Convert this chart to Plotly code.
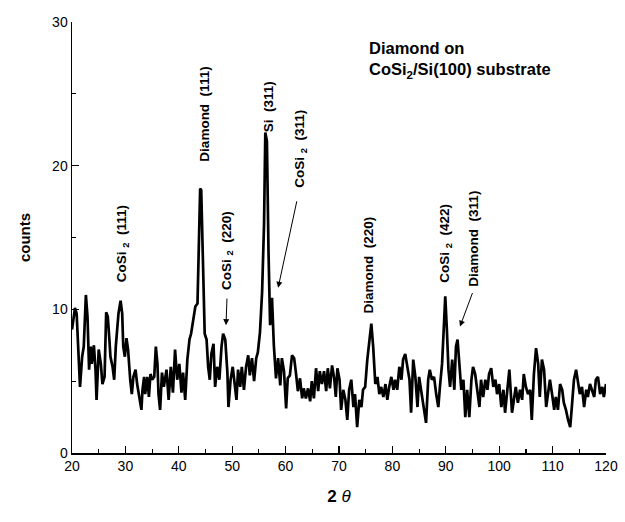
import plotly.graph_objects as go

# ---- data (2-theta in degrees, counts) ----
two_theta_a = [20.0, 20.56, 20.87, 21.19, 21.5, 21.9, 22.2, 22.6, 22.9, 23.2, 23.5, 23.7, 24.1, 24.4, 24.6,
               25.0, 25.4, 25.7, 26.1, 26.4, 26.7, 27.0, 27.2, 27.6, 27.9, 28.2, 28.7, 29.1, 29.4, 29.6,
               29.9, 30.2, 30.5, 30.9, 31.2, 31.5, 31.9, 32.2, 32.6, 33.0, 33.2, 33.5, 33.7, 34.1, 34.4,
               34.7, 35.0, 35.4, 35.7, 36.0, 36.2, 36.5]
counts_a = [8.6, 10.1, 9.7, 7.4, 4.6, 6.7, 7.4, 11.0, 9.5, 5.8, 7.4, 6.2, 7.5, 5.8, 3.7,
            7.2, 6.2, 4.8, 5.3, 9.8, 9.5, 7.9, 6.7, 6.0, 5.1, 7.4, 9.7, 10.6, 9.7, 7.4,
            6.7, 8.0, 7.2, 5.1, 4.1, 5.3, 5.8, 4.8, 3.9, 3.0, 4.4, 5.3, 4.1, 5.3, 3.9,
            5.5, 5.1, 5.3, 7.4, 6.2, 4.1, 3.0]

two_theta_b = [36.85, 37.2, 37.7, 38.1, 38.5, 38.9, 39.3, 39.7, 40.1, 40.5, 40.8, 41.2, 41.6, 42.0, 42.3,
               42.7, 43.1, 43.5, 43.7, 44.0, 44.2, 44.5, 44.85, 45.2, 45.5, 45.8, 46.1, 46.5, 46.8, 47.2,
               47.6, 48.0, 48.3, 48.7, 49.1, 49.3, 49.7, 50.1, 50.5, 50.8, 51.1, 51.5, 51.8, 52.2, 52.6]
counts_b = [5.6, 4.6, 5.8, 3.7, 6.0, 4.2, 7.2, 5.1, 6.2, 4.2, 5.6, 3.7, 6.5, 7.9, 8.3,
            9.3, 10.2, 10.4, 14.4, 18.4, 18.3, 13.2, 8.3, 7.9, 6.0, 5.1, 6.9, 7.6, 4.6, 6.0,
            5.1, 7.4, 8.3, 7.9, 5.6, 3.2, 5.1, 6.0, 4.6, 3.7, 5.8, 4.6, 6.0, 4.4, 6.0]

two_theta_c = [53.0, 53.3, 53.7, 54.1, 54.5, 54.8, 55.2, 55.6, 55.96, 56.2, 56.5, 56.8, 57.1, 57.45, 57.8,
               58.2, 58.6, 59.0, 59.3, 59.7, 60.1, 60.4, 60.8, 61.2, 61.6, 61.9, 62.3, 62.7, 63.1, 63.4,
               63.8, 64.2, 64.6, 64.9, 65.3, 65.7, 66.1, 66.4, 66.8, 67.2, 67.6, 67.9, 68.3, 68.7, 69.1]
counts_c = [6.8, 5.4, 6.6, 5.0, 6.6, 7.0, 8.4, 11.2, 15.9, 22.3, 21.7, 14.0, 8.9, 10.8, 7.5,
            5.2, 6.6, 4.7, 6.6, 5.7, 3.1, 5.2, 5.4, 6.8, 6.6, 5.7, 4.3, 5.2, 3.8, 4.5,
            3.8, 4.5, 3.6, 5.0, 3.8, 5.9, 4.3, 5.7, 4.8, 5.7, 4.3, 5.9, 4.5, 6.1, 5.2]

two_theta_d = [69.4, 69.7, 70.1, 70.4, 70.8, 71.2, 71.55, 71.9, 72.3, 72.7, 73.0, 73.4, 73.8, 74.2, 74.5,
               74.9, 75.3, 75.7, 76.05, 76.4, 76.8, 77.2, 77.55, 77.9, 78.3, 78.7, 79.05, 79.4, 79.8, 80.2,
               80.5, 80.9, 81.3, 81.7, 82.0, 82.4, 82.8, 83.2, 83.5, 83.9, 84.3, 84.7, 85.0, 85.4]
counts_d = [3.9, 5.9, 5.1, 3.0, 4.4, 3.7, 2.3, 4.4, 5.1, 3.2, 4.1, 1.8, 3.7, 3.2, 4.4,
            4.6, 6.5, 7.9, 9.0, 7.4, 4.8, 5.3, 4.1, 4.6, 3.9, 4.8, 3.7, 4.6, 5.3, 4.4,
            5.1, 4.4, 6.0, 5.1, 6.5, 6.9, 6.0, 5.1, 2.8, 6.5, 5.3, 3.2, 5.3, 4.4]

two_theta_e = [85.9, 86.3, 86.7, 87.0, 87.4, 87.8, 88.2, 88.6, 88.9, 89.3, 89.7, 89.9, 90.2, 90.5, 90.8,
               91.2, 91.6, 91.9, 92.2, 92.6, 92.9, 93.3, 93.65, 94.0, 94.4, 94.8, 95.1, 95.5, 95.9, 96.3,
               96.6, 97.0, 97.4, 97.8, 98.1, 98.5, 98.9, 99.3, 99.6, 100.0, 100.4, 100.8, 101.1, 101.5, 101.9]
counts_e = [3.2, 2.1, 5.1, 5.8, 5.1, 5.3, 4.1, 3.2, 4.6, 6.2, 9.3, 10.9, 8.6, 5.8, 4.6,
            6.5, 4.4, 7.4, 7.9, 6.2, 4.4, 5.1, 2.5, 4.4, 2.5, 5.1, 6.0, 5.5, 4.4, 3.2,
            5.1, 3.9, 5.1, 4.4, 5.5, 5.9, 4.6, 5.1, 4.1, 4.8, 3.2, 4.4, 2.8, 4.6, 5.8]

two_theta_f = [102.4, 102.8, 103.1, 103.5, 103.9, 104.3, 104.6, 105.0, 105.4, 105.8, 106.1, 106.5, 106.9, 107.3,
               107.6, 108.0, 108.4, 108.8, 109.1, 109.5, 109.9, 110.3, 110.6, 111.0, 111.4, 111.8, 112.1,
               112.5, 112.9, 113.3, 113.6, 114.0, 114.4, 114.8, 115.1, 115.5, 115.9, 116.3, 116.6, 117.0,
               117.4, 117.8, 118.1, 118.5, 118.9, 119.3, 119.6, 120.0]
counts_f = [2.8, 3.7, 4.6, 3.5, 4.4, 3.7, 5.5, 4.6, 4.1, 4.4, 2.3, 5.5, 7.3, 6.2,
            3.9, 6.5, 5.8, 3.2, 4.1, 5.1, 4.1, 3.0, 3.9, 3.0, 4.8, 4.4, 3.5,
            3.0, 2.3, 1.8, 3.2, 5.1, 5.8, 4.8, 4.1, 4.6, 3.2, 4.4, 3.9, 4.8,
            4.4, 3.9, 5.1, 5.3, 4.1, 4.6, 3.9, 4.8]

two_theta = two_theta_a + two_theta_b + two_theta_c + two_theta_d + two_theta_e + two_theta_f
counts = counts_a + counts_b + counts_c + counts_d + counts_e + counts_f

x_ticks = [20, 30, 40, 50, 60, 70, 80, 90, 100, 110, 120]
y_ticks = [0, 10, 20, 30]

NB = "\u00a0"
# peak labels: (text, x, y)
peak_labels = ["CoSi" + NB + "<sub>2</sub>" + NB * 2 + "(111)",
               "Diamond" + NB * 2 + "(111)",
               "CoSi" + NB + "<sub>2</sub>" + NB * 2 + "(220)",
               "Si" + NB * 2 + "(311)",
               "CoSi" + NB + "<sub>2</sub>" + NB * 2 + "(311)",
               "Diamond" + NB * 2 + "(220)",
               "CoSi" + NB + "<sub>2</sub>" + NB * 2 + "(422)",
               "Diamond" + NB * 2 + "(311)"]
label_x = [29.46, 44.9, 49.1, 56.7, 62.9, 75.6, 90.04, 95.28]
label_y = [14.57, 23.62, 14.08, 24.14, 21.18, 13.11, 14.57, 14.92]

# arrows: head position (data) and tail offset (pixels)
arrow_x = [48.84, 58.6, 92.66]
arrow_y = [8.9, 11.5, 8.8]
arrow_ax = [1, 19, 13]
arrow_ay = [-28, -88, -35]

FONT = "Liberation Sans, Arial, Helvetica, sans-serif"

fig = go.Figure()
fig.add_trace(go.Scatter(x=two_theta, y=counts, mode="lines", cliponaxis=False,
                         line=dict(color="black", width=2.7), showlegend=False))

annotations = []
for t, x, y in zip(peak_labels, label_x, label_y):
    annotations.append(dict(x=x, y=y, xref="x", yref="y", text="<b>" + t + "</b>",
                            textangle=-90, showarrow=False,
                            font=dict(family=FONT, size=13.5, color="black")))
for x, y, ax, ay in zip(arrow_x, arrow_y, arrow_ax, arrow_ay):
    annotations.append(dict(x=x, y=y, xref="x", yref="y", text="", showarrow=True,
                            ax=ax, ay=ay, arrowhead=2, arrowsize=1.2, arrowwidth=1,
                            arrowcolor="black"))
annotations.append(dict(x=75.2, y=27.35, xref="x", yref="y", xanchor="left", yanchor="middle",
                        align="left", showarrow=False,
                        text="<b>Diamond on<br>CoSi<sub>2</sub>/Si(100) substrate</b>",
                        font=dict(family=FONT, size=16.5, color="black")))

fig.update_layout(
    width=625, height=522,
    margin=dict(l=72, r=19, t=22, b=69, autoexpand=False),
    paper_bgcolor="white", plot_bgcolor="white",
    font=dict(family=FONT, color="black"),
    annotations=annotations,
    xaxis=dict(range=[20, 120], tickvals=x_ticks, ticks="inside", ticklen=7, tickwidth=1.3,
               tickcolor="black", showline=True, linecolor="black", linewidth=1.5,
               showgrid=False, zeroline=False, tickfont=dict(size=14, family=FONT),
               automargin=False,
               minor=dict(dtick=5, ticks="inside", ticklen=4, tickwidth=1.2, tickcolor="black",
                          showgrid=False),
               title=dict(text="<b>2</b> <i>θ</i>", font=dict(size=17, family=FONT), standoff=17)),
    yaxis=dict(range=[0, 30], tickvals=y_ticks, ticks="inside", ticklen=7, tickwidth=1.3,
               tickcolor="black", showline=True, linecolor="black", linewidth=1.5,
               showgrid=False, zeroline=False, tickfont=dict(size=14, family=FONT),
               automargin=False,
               minor=dict(dtick=5, ticks="inside", ticklen=4, tickwidth=1.2, tickcolor="black",
                          showgrid=False),
               title=dict(text="<b>counts</b>", font=dict(size=15, family=FONT), standoff=18)),
)

fig.write_html("out.html", config={"displayModeBar": False, "staticPlot": True},
               post_script="document.body.style.margin='0';document.body.style.overflow='hidden';")
